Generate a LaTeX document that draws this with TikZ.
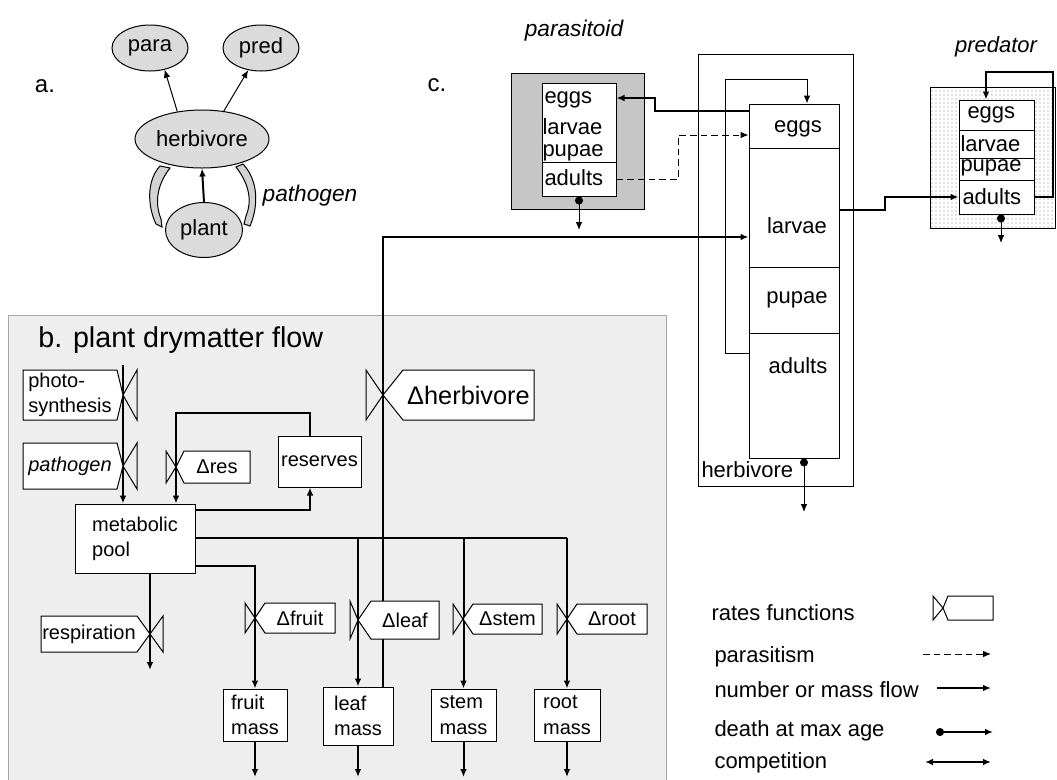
\documentclass[tikz,border=0pt]{standalone}
\usepackage{fontspec}
\setmainfont{Liberation Sans}
\usetikzlibrary{arrows.meta,shapes.geometric,patterns}

\tikzset{every picture/.style={line width=0.75pt}}
\tikzset{
  lbl/.style={inner sep=0.75pt, font=\fontsize{16.5}{19}\selectfont},
  sml/.style={inner sep=0.75pt, font=\fontsize{15}{19}\selectfont, align=left},
  blob/.style={ellipse, draw, fill=gray!28, inner sep=0pt, font=\fontsize{16.5}{19}\selectfont},
  stagebox/.style={draw, fill=white, inner sep=0pt},
  massbox/.style={draw, fill=white, inner sep=0pt, align=left, font=\fontsize{15}{19}\selectfont},
  flow/.style={line width=1.5pt, -{Latex[length=6pt,width=5pt]}},
  thinflow/.style={line width=0.75pt, -{Latex[length=6pt,width=5pt]}},
  paraflow/.style={line width=0.75pt, dash pattern=on 5pt off 3pt, -{Latex[length=6pt,width=5pt]}},
  death/.style={line width=0.75pt, {Circle[length=6pt]}-{Latex[length=6pt,width=5pt]}},
}

% rate function: name, valve centre (x,y), half height, valve width, notch, far edge, text
\newcommand{\ratefn}[8]{%
  \draw (#2,#3) -- ({#2-(#5)},{#3-(#4)}) -- ({#2-(#5)},{#3+(#4)}) -- cycle;
  \draw[fill=white] (#2,#3) -- ({#2+(#6)},{#3-(#4)}) -- (#7,{#3-(#4)}) -- (#7,{#3+(#4)}) -- ({#2+(#6)},{#3+(#4)}) -- cycle;
  \node[sml] (#1) at ({(#2+(#6)+#7)/2},#3) {#8};
}

\begin{document}
\begin{tikzpicture}[x=0.75pt,y=0.75pt,yscale=-1,xscale=1]
\useasboundingbox (0,0) rectangle (1057,779);

%Shape: Rectangle [panel b background]
\draw [draw=gray!70, fill=gray!13] (8,315) rectangle (666,790);

% ---------- a. ----------
\node[lbl, font=\fontsize{18}{20}\selectfont] (alabel) at (45,86) {a.};
\node[blob, minimum width=57pt, minimum height=34.5pt] (para) at (150,48) {para};
\node[blob, minimum width=57pt, minimum height=34.5pt] (pred) at (261,48) {pred};
\node[blob, minimum width=100.5pt, minimum height=43.5pt] (herb) at (202,139) {herbivore};
\node[blob, minimum width=57.75pt, minimum height=41.25pt] (plant) at (204,230) {plant};
\draw[thinflow] (herb.132) -- (para.304);
\draw[thinflow] (herb.52) -- (pred.240);
\draw[flow] (plant.north) -- (herb.south);
%Shape: curved arrows
\draw [fill=gray!35] (160,166) .. controls (147,180) and (147,205) .. (156,224) -- (162,227) -- (161,219) .. controls (155,204) and (156,186) .. (170,168) -- cycle;
\draw [fill=gray!35] (243,164) .. controls (258,180) and (259,205) .. (250,226) -- (244,224) -- (246,216) .. controls (252,202) and (250,185) .. (236,167) -- cycle;
\node[lbl, font=\fontsize{17}{19}\selectfont\itshape] (pathogen) at (310,196) {pathogen};

% ---------- c. ----------
\node[lbl, font=\fontsize{18}{20}\selectfont] (clabel) at (437,85) {c.};
\node[lbl, font=\fontsize{17}{19}\selectfont\itshape] (parlabel) at (574,31) {parasitoid};
\node[lbl, font=\fontsize{16.5}{19}\selectfont\itshape] (predlabel) at (996,47) {predator};

% herbivore stages
\node[draw, inner sep=0pt, minimum width=116.25pt, minimum height=324pt] (herbout) at (775.5,270) {};
\node[stagebox, minimum width=67.5pt, minimum height=33pt] (heggs) at (794,126) {};
\node[stagebox, minimum width=67.5pt, minimum height=89.25pt] (hlarvae) at (794,207.5) {};
\node[stagebox, minimum width=67.5pt, minimum height=49.5pt] (hpupae) at (794,300) {};
\node[stagebox, minimum width=67.5pt, minimum height=93.75pt] (hadults) at (794,395.5) {};
\node[lbl] (theggs) at (798,129) {eggs};
\node[lbl] (thlarvae) at (797,226) {larvae};
\node[lbl] (thpupae) at (797,300) {pupae};
\node[lbl] (thadults) at (798,366) {adults};
\node[lbl, anchor=west] (therb) at (700,470) {herbivore};

% parasitoid stages
\node[draw, fill=gray!45, inner sep=0pt, minimum width=99.75pt, minimum height=102pt] (parout) at (577.5,141) {};
\node[stagebox, minimum width=55.5pt, minimum height=59.25pt] (parup) at (579,122.5) {};
\node[stagebox, minimum width=55.5pt, minimum height=25.5pt] (paradult) at (579,179) {};
\node[lbl, anchor=west] (tpeggs) at (543,100) {eggs};
\node[lbl, anchor=west] (tplarvae) at (541,127) {larvae};
\node[lbl, anchor=west] (tppupae) at (541,153) {pupae};
\node[lbl, anchor=west] (tpadults) at (543,178) {adults};

% predator stages
\node[draw, pattern=dots, pattern color=gray, inner sep=0pt, minimum width=93.75pt, minimum height=105.75pt] (predout) at (992.5,157.5) {};
\node[stagebox, minimum width=56.25pt, minimum height=22.5pt] (pdeggs) at (996.5,115) {};
\node[stagebox, minimum width=56.25pt, minimum height=21pt] (pdlarvae) at (996.5,144) {};
\node[stagebox, minimum width=56.25pt, minimum height=16.5pt] (pdpupae) at (996.5,169) {};
\node[stagebox, minimum width=56.25pt, minimum height=25.5pt] (pdadults) at (996.5,197) {};
\node[lbl, anchor=west] (tdeggs) at (966,115) {eggs};
\node[lbl, anchor=west] (tdlarvae) at (959,144) {larvae};
\node[lbl, anchor=west] (tdpupae) at (959,168) {pupae};
\node[lbl, anchor=west] (tdadults) at (961,197) {adults};

\coordinate (pardie) at (579,230);
\coordinate (herbdie) at (804,512);
\coordinate (preddie) at (1001,243);

%Straight Lines
\draw[flow] (heggs.west |- 0,111) -- (655,111) -- (655,98) -- (parup.east |- 0,98);
\draw[paraflow] (paradult.east) -- (678,179) -- (678,135) -- (heggs.west |- 0,135);
\draw[thinflow] (hadults.west |- 0,353) -- (725,353) -- (725,79) -- (807,79) -- (heggs.north -| 807,0);
\draw[flow] (hlarvae.east |- 0,210) -- (885,210) -- (885,197) -- (pdadults.west);
\draw[flow] (pdadults.east) -- (1053,197) -- (1053,72) -- (986,72) -- (pdeggs.north -| 986,0);
\draw[death] (paradult.south) -- (pardie);
\draw[death] (hadults.south -| 804,0) -- (herbdie);
\draw[death] (pdadults.south -| 1001,0) -- (preddie);

% ---------- b. ----------
\node[lbl, anchor=west, font=\fontsize{21.5}{24}\selectfont] (blabel) at (37,340) {b. plant drymatter flow};

\node[massbox, minimum width=90pt, minimum height=51.75pt] (pool) at (135,538.5) {metabolic\\pool};
\node[massbox, minimum width=62.25pt, minimum height=38.25pt] (reserves) at (319.5,461.5) {reserves};
\node[massbox, minimum width=48pt, minimum height=39pt] (fmass) at (255,715) {fruit\\mass};
\node[massbox, minimum width=52.5pt, minimum height=43.5pt] (lmass) at (358,716) {leaf\\mass};
\node[massbox, minimum width=48.75pt, minimum height=39pt] (smass) at (463.5,715) {stem\\mass};
\node[massbox, minimum width=49.5pt, minimum height=39pt] (rmass) at (567,715) {root\\mass};

\coordinate (sun) at (123,365);
\coordinate (resp) at (150,670);

% leaf eaten by herbivore larvae
\draw[flow] (lmass.north -| 383,0) -- (383,237) -- (hlarvae.west |- 0,237);

\draw[flow] (sun) -- (pool.north -| 123,0);
\draw[flow] (reserves.north -| 310,0) -- (310,413) -- (176,413) -- (pool.north -| 176,0);
\draw[flow] (pool.east |- 0,510) -- (310,510) -- (reserves.south -| 310,0);
\draw[line width=1.5pt] (pool.east |- 0,538) -- (567,538);
\draw[flow] (358,538) -- (lmass.north -| 358,0);
\draw[flow] (463.5,538) -- (smass.north);
\draw[flow] (567,538) -- (rmass.north);
\draw[flow] (pool.east |- 0,566) -- (255,566) -- (fmass.north);
\draw[flow] (pool.south -| 150,0) -- (resp);
\draw[flow] (fmass.south) -- (255,777);
\draw[flow] (lmass.south) -- (358,777);
\draw[flow] (smass.south) -- (463.5,777);
\draw[flow] (rmass.south) -- (567,777);

% rate functions
\ratefn{rphoto}{123}{395}{25}{-14}{-6}{23}{photo-\\synthesis}
\ratefn{rpath}{123}{466}{23}{-14}{-6}{23}{\itshape pathogen}
\ratefn{rresp}{150}{634}{18}{-13}{-13}{41}{respiration}
\ratefn{rres}{176}{467}{16}{10}{8}{250}{Δres}
\ratefn{rherb}{383}{395}{25}{17}{20}{534}{\fontsize{19}{22}\selectfont Δherbivore}
\ratefn{rfruit}{255}{618}{15}{10}{10}{335}{Δfruit}
\ratefn{rleaf}{358}{620}{19}{8}{13}{439}{Δleaf}
\ratefn{rstem}{463}{619}{15}{10}{10}{542}{Δstem}
\ratefn{rroot}{567}{619}{15}{10}{10}{647}{Δroot}

% ---------- legend ----------
\node[lbl, anchor=west] (lgrate) at (710,613) {rates functions};
\node[lbl, anchor=west] (lgpara) at (713,657) {parasitism};
\node[lbl, anchor=west] (lgflow) at (713,690) {number or mass flow};
\node[lbl, anchor=west] (lgdeath) at (713,731) {death at max age};
\node[lbl, anchor=west] (lgcomp) at (713,763) {competition};
\ratefn{lgshape}{943}{608}{12}{10}{5}{993}{}
\coordinate (lgpa) at (923,654);
\coordinate (lgpb) at (991,654);
\coordinate (lgfa) at (937,688);
\coordinate (lgfb) at (991,688);
\coordinate (lgda) at (936,732);
\coordinate (lgdb) at (993,732);
\coordinate (lgca) at (925,762);
\coordinate (lgcb) at (991,762);
\draw[paraflow] (lgpa) -- (lgpb);
\draw[thinflow, line width=1.2pt] (lgfa) -- (lgfb);
\draw[death, line width=1.2pt] (lgda) -- (lgdb);
\draw[line width=1.2pt, {Latex[length=6pt,width=5pt]}-{Latex[length=6pt,width=5pt]}] (lgca) -- (lgcb);

\end{tikzpicture}
\end{document}
